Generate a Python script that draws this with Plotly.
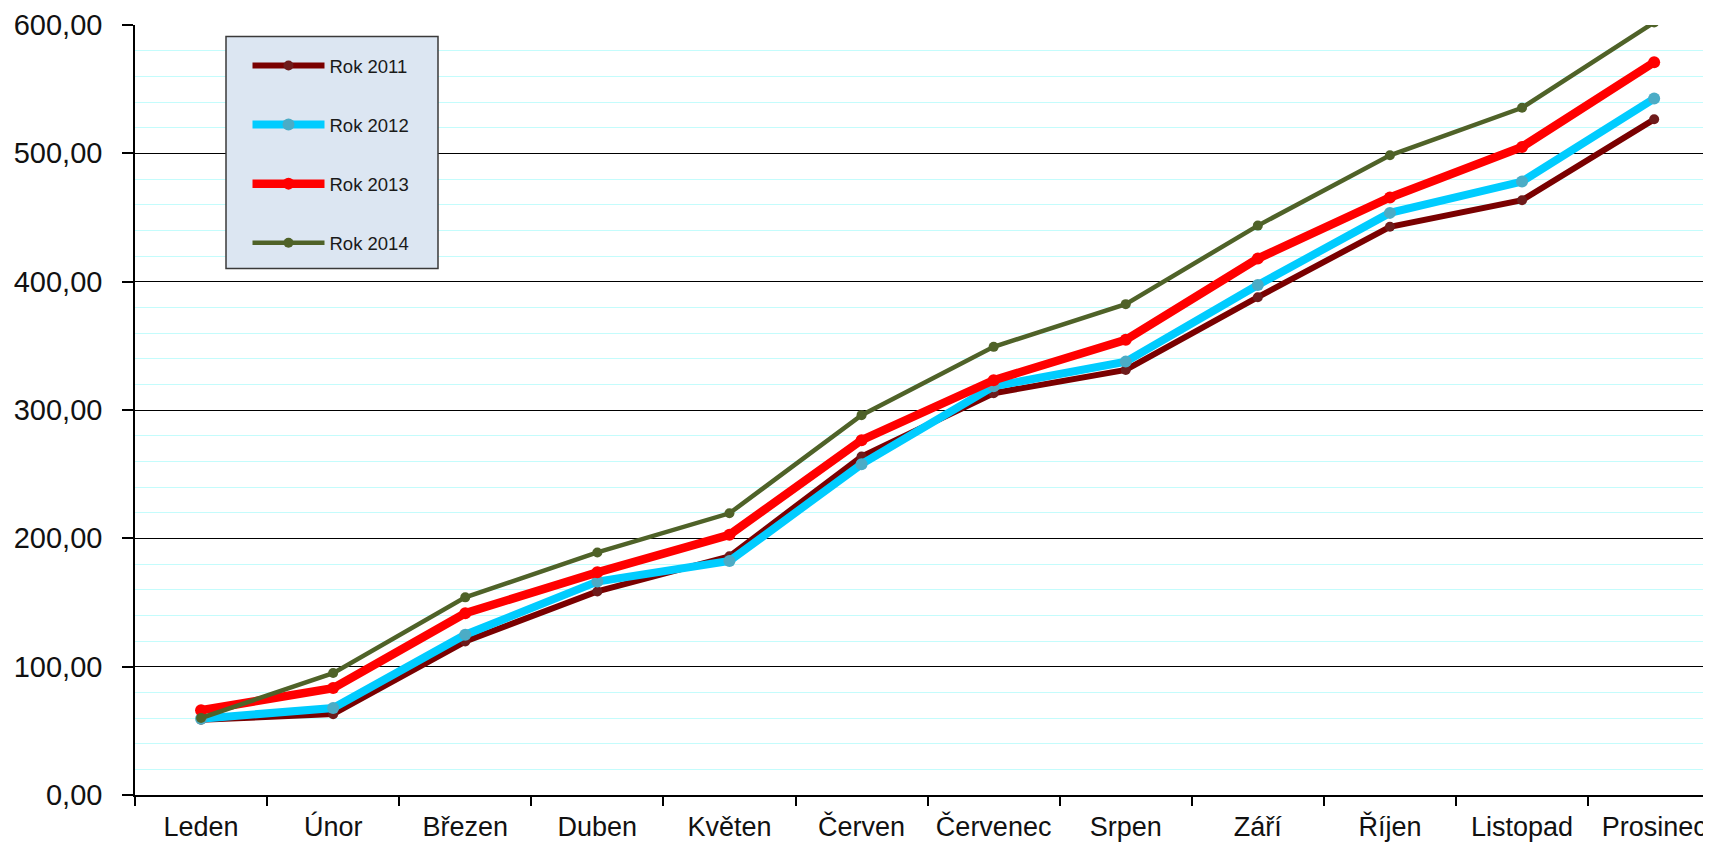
import plotly.graph_objects as go

months = ["Leden", "Únor", "Březen", "Duben", "Květen", "Červen", "Červenec",
          "Srpen", "Září", "Říjen", "Listopad", "Prosinec"]
rok_2011 = [58.6, 63.0, 119.6, 158.6, 186.0, 263.8, 313.1, 331.2, 387.9, 442.8, 463.5, 526.5]
rok_2012 = [59.5, 67.8, 124.9, 166.3, 182.3, 257.8, 318.5, 337.7, 397.4, 453.6, 478.0, 542.7]
rok_2013 = [66.0, 83.3, 141.6, 173.5, 202.8, 276.5, 323.2, 354.7, 418.0, 465.6, 505.0, 571.0]
rok_2014 = [60.0, 95.0, 154.0, 189.0, 219.5, 296.0, 349.2, 382.5, 443.7, 498.5, 535.5, 602.0]
series_names = ["Rok 2011", "Rok 2012", "Rok 2013", "Rok 2014"]
y_ticks = [0, 100, 200, 300, 400, 500, 600]

styles = [
    dict(line="#7a0000", marker="#6e1b1b", lw=6, ms=10),
    dict(line="#00ccff", marker="#4bacc6", lw=8, ms=12),
    dict(line="#ff0000", marker="#ff0000", lw=8.5, ms=12),
    dict(line="#4f6228", marker="#4f6228", lw=4.5, ms=10),
]

fig = go.Figure()
for i, (name, vals) in enumerate(zip(series_names, [rok_2011, rok_2012, rok_2013, rok_2014])):
    st = styles[i]
    fig.add_trace(go.Scatter(
        x=months, y=vals, name=name + "\u00a0" * 4, mode="lines+markers",
        line=dict(color=st["line"], width=st["lw"]),
        marker=dict(color=st["marker"], size=st["ms"]),
        legendgroup=name,
    ))

OFF = 8  # default page body margin
W, H = 1711 - OFF, 842 - OFF
L, T = 135 - OFF, 25 - OFF
R, B = 0, 842 - 795
pw, ph = W - L - R, H - T - B
cat_w = 132.1

def px_x(p):  # page pixel -> paper
    return (p - OFF - L) / pw

def px_y(p):
    return 1 - (p - OFF - T) / ph

fig.update_layout(
    width=W, height=H,
    margin=dict(l=L, r=R, t=T, b=B, pad=0, autoexpand=False),
    paper_bgcolor="white", plot_bgcolor="white",
    separators=", ",
    font=dict(family="Liberation Sans, Arial, sans-serif", color="#111111"),
    showlegend=True,
    legend=dict(
        x=px_x(247.5), y=px_y(47), xanchor="left", yanchor="top",
        bgcolor="rgba(0,0,0,0)", borderwidth=0,
        font=dict(size=18.5, color="#1a1a1a", family="Liberation Sans, Arial, sans-serif"),
        tracegroupgap=32, traceorder="grouped", itemwidth=72,
    ),
    shapes=[dict(
        type="rect", xref="paper", yref="paper",
        x0=px_x(226), x1=px_x(438), y0=px_y(268.5), y1=px_y(36.5),
        fillcolor="#dce6f2", line=dict(color="#3a3a3a", width=1.5), layer="above",
    )],
)

fig.update_xaxes(
    type="category", categoryorder="array", categoryarray=months,
    range=[-0.5, -0.5 + pw / cat_w], automargin=False,
    tickson="boundaries", ticks="outside", ticklen=9, tickcolor="black", tickwidth=1.5,
    showline=True, linecolor="black", linewidth=1.5,
    showgrid=False, zeroline=False,
    tickfont=dict(size=27, color="#111111"), ticklabelstandoff=7,
)
fig.update_yaxes(
    range=[0, 600], tickvals=y_ticks, tickformat=".2f", automargin=False,
    ticks="outside", ticklen=11, tickcolor="black", tickwidth=1.5,
    showline=True, linecolor="black", linewidth=1.5,
    showgrid=True, gridcolor="black", gridwidth=1, zeroline=False,
    minor=dict(dtick=20, showgrid=True, gridcolor="#c4fcfc", gridwidth=1, ticks=""),
    tickfont=dict(size=29, color="#111111"), ticklabelstandoff=14,
)

fig.write_html("out.html")
